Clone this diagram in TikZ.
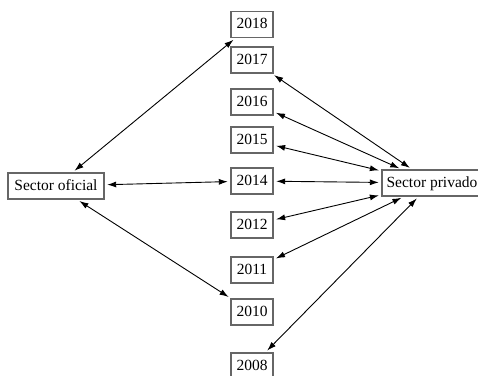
\documentclass[tikz,border=0pt]{standalone}
\usepackage{fontspec}
\setmainfont{Liberation Serif}
\usetikzlibrary{arrows.meta}
\begin{document}
\begin{tikzpicture}[x=1pt,y=-1pt,
  box/.style={draw=black!60,line width=1.4pt,fill=white,inner sep=0pt,
    font=\fontsize{15.5}{18}\selectfont,text height=11pt,text depth=3pt},
  yearbox/.style={box,minimum width=42pt,minimum height=26pt},
  link/.style={line width=0.9pt,{Latex[length=9pt,width=6pt]}-{Latex[length=9pt,width=6pt]},shorten <=2.5pt,shorten >=2.5pt}]
\useasboundingbox (0,0) rectangle (478,375);
\fill[white] (0,0) rectangle (478,375);
\node[box,minimum width=96pt,minimum height=26pt] (ofi) at (56,186) {Sector oficial};
\node[box,minimum width=100pt,minimum height=26pt] (pri) at (432,183) {Sector privado};
\node[yearbox] (y2018) at (252,24.5) {2018};
\node[yearbox] (y2017) at (252,60) {2017};
\node[yearbox] (y2016) at (252,102) {2016};
\node[yearbox] (y2015) at (252,140) {2015};
\node[yearbox] (y2014) at (252,181) {2014};
\node[yearbox] (y2012) at (252,225) {2012};
\node[yearbox] (y2011) at (252,270) {2011};
\node[yearbox] (y2010) at (252,312) {2010};
\node[yearbox] (y2008) at (252,366) {2008};
\draw[link] (ofi) -- (y2018);
\draw[link] (ofi) -- (y2014);
\draw[link] (ofi) -- (y2010);
\draw[link] (pri) -- (y2017);
\draw[link] (pri) -- (y2016);
\draw[link] (pri) -- (y2015);
\draw[link] (pri) -- (y2014);
\draw[link] (pri) -- (y2012);
\draw[link] (pri) -- (y2011);
\draw[link] (pri) -- (y2008);
\end{tikzpicture}
\end{document}
